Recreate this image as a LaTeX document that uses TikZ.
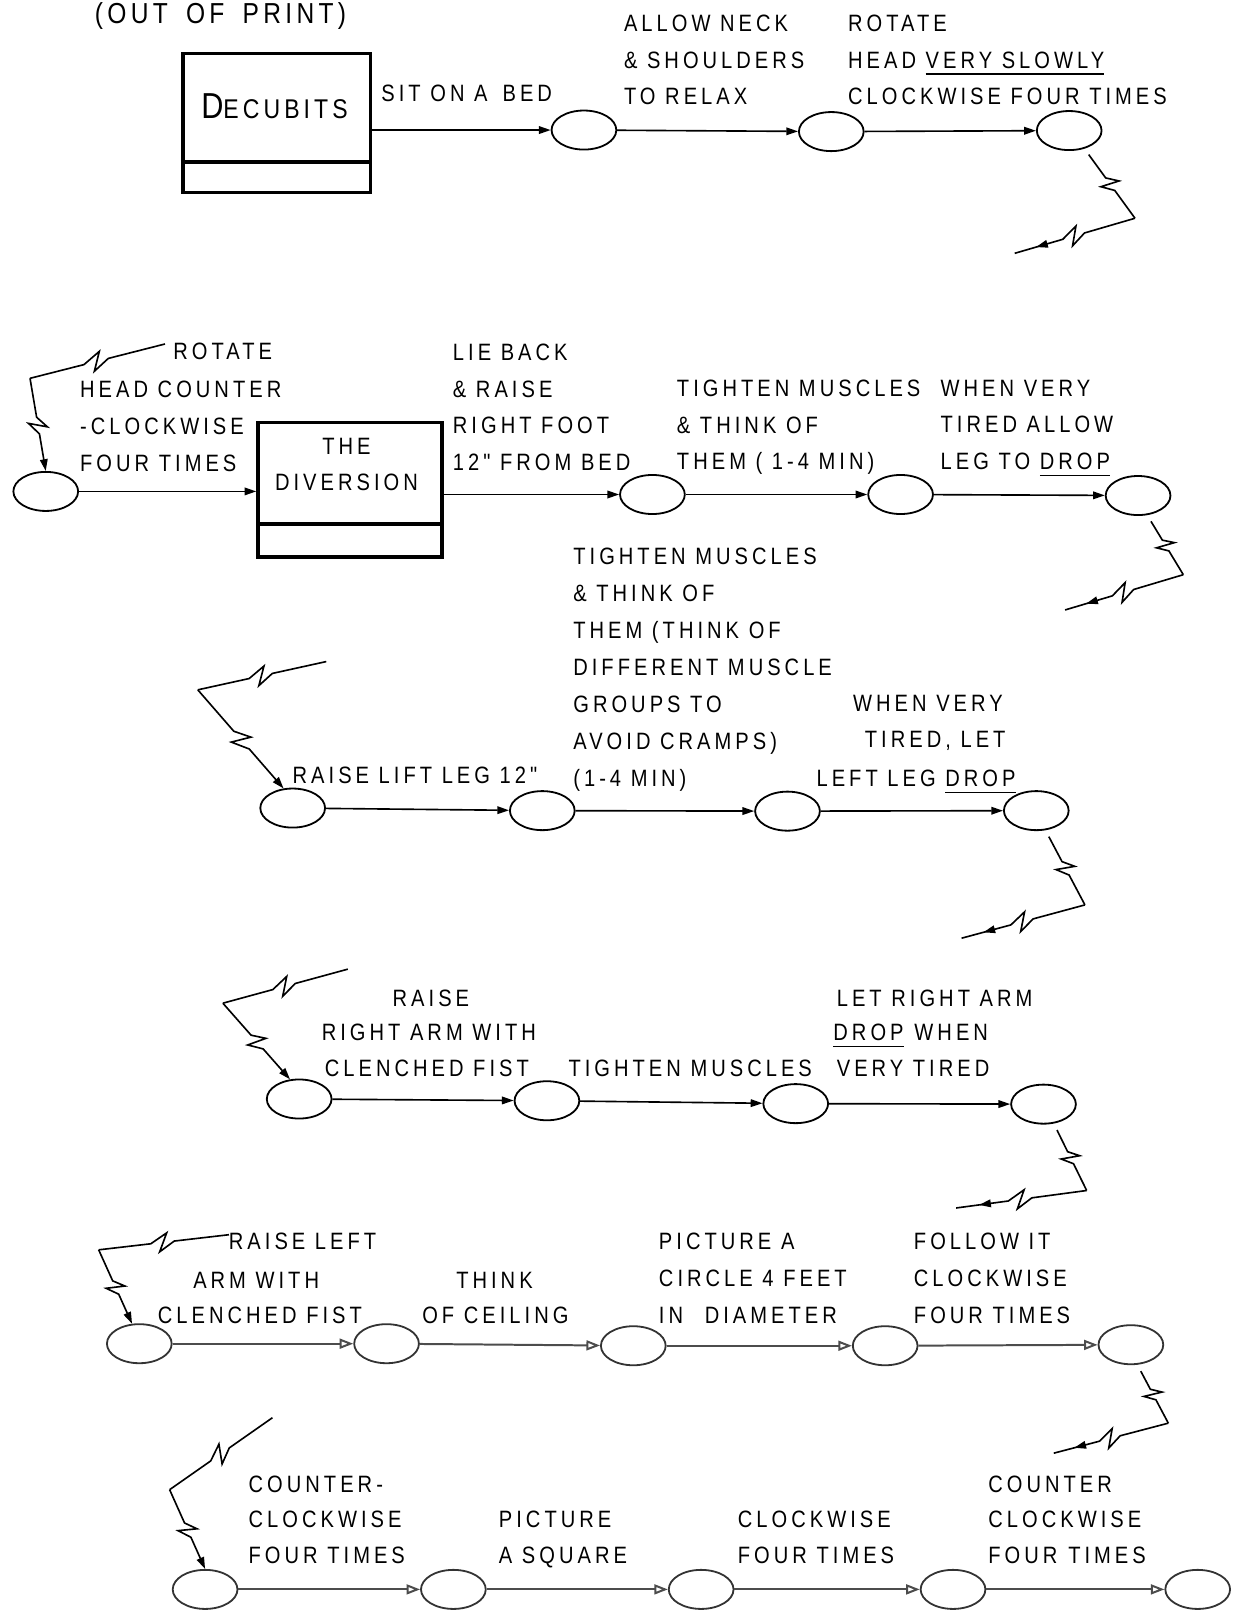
\documentclass[tikz,border=0pt]{standalone}
\usepackage{fontspec}
\setmainfont{Liberation Sans}[FakeStretch=0.85,LetterSpace=15]
\newfontfamily\lf{Liberation Sans}[FakeStretch=0.85,LetterSpace=17]
\usetikzlibrary{shapes.geometric,arrows.meta,calc,decorations.markings}
\newcommand\lblfont{\lf\fontsize{13.1}{20.3}\selectfont}
\newcommand\ulx[1]{\begingroup\setbox0\hbox{#1}\rlap{\rule[-3.6pt]{\wd0}{0.8pt}}\box0\endgroup}
\newcommand\zig[3][]{%
  \draw[conn,#1] (#2) -- ($(#2)!0.42!(#3)$) -- ($(#2)!0.54!(#3)!5pt!90:(#3)$)
     -- ($(#2)!0.47!(#3)!5pt!-90:(#3)$) -- ($(#2)!0.60!(#3)$) -- (#3);}
\begin{document}
\begin{tikzpicture}[x=0.02cm,y=-0.02cm,
 ev/.style={ellipse,draw,line width=1pt,minimum width=1.26cm,minimum height=0.76cm,inner sep=0pt},
 evg/.style={ev,draw=black!80},
 actbox/.style={rectangle,draw,line width=2pt,inner sep=0pt},
 arr/.style={draw,line width=0.9pt,-{Triangle[length=6.5pt,width=4.2pt]}},
 arrg/.style={draw=black!70,line width=1.1pt,-{Triangle[open,length=7.5pt,width=5.5pt]}},
 conn/.style={draw,line width=0.9pt,line join=miter},
 tipmark/.style={postaction={decorate},decoration={markings,mark=at position #1 with {\arrow{Triangle[length=6.5pt,width=4.2pt]}}}},
 lbl/.style={anchor=north west,inner sep=0pt,outer sep=0pt,align=left,font=\lblfont},
]
\useasboundingbox (0,0) rectangle (1204,1568);
\clip (0,0) rectangle (1204,1568);

% ---------- row 1
\node[anchor=base west,inner sep=0pt] (oop) at (92,22.5) {\fontsize{16}{16}\selectfont (OUT\hspace{10pt}OF\hspace{10pt}PRINT)};
\node[actbox,minimum width=3.656cm,minimum height=2.71cm] (dec) at (269.1,119.65) {};
\draw[line width=2pt] ($(dec.south west)+(0,-31.8)$) -- ($(dec.south east)+(0,-31.8)$);
\node[anchor=base,inner sep=0pt] (dect) at (267,115) {{\fontsize{20}{20}\selectfont D}{\fontsize{15}{15}\selectfont ECUBITS}};
\node[ev] (r1a) at (568,126.5) {};
\node[ev] (r1b) at (808.6,128) {};
\node[ev] (r1c) at (1040,127) {};
\draw[arr] (dec.east |- r1a) -- (r1a.west);
\draw[arr] (r1a) -- (r1b);
\draw[arr] (r1b) -- (r1c);
\node[lbl] (t1) at (371,83) {SIT ON A\hspace{3pt} BED};
\node[lbl] (t2) at (607,14.6) {ALLOW NECK\\\& SHOULDERS\\TO RELAX};
\node[lbl] (t3) at (825,14.6) {ROTATE\\HEAD \ulx{VERY SLOWLY}\\CLOCKWISE FOUR TIMES};
\coordinate (k1) at (1104,212.3); \coordinate (f1) at (987,246.4);
\zig[shorten <=4pt]{r1c.-50}{k1}
\zig[tipmark=0.86]{k1}{f1}

% ---------- row 2
\coordinate (g2) at (160.5,334.6); \coordinate (c2) at (29.2,368);
\node[ev] (r2a) at (44.5,478) {};
\node[actbox,minimum width=3.58cm,minimum height=2.62cm] (div) at (340.5,476.5) {};
\draw[line width=2pt] ($(div.south west)+(0,-34)$) -- ($(div.south east)+(0,-34)$);
\node[lbl,anchor=north,align=center] (t6) at (337,426) {THE\\DIVERSION};
\node[ev] (r2b) at (634.6,481) {};
\node[ev] (r2c) at (876,481) {};
\node[ev] (r2d) at (1107,482) {};
\draw[arr] (r2a) -- (div.west |- r2a);
\draw[arr] (div.east |- r2b) -- (r2b);
\draw[arr] (r2b) -- (r2c);
\draw[arr] (r2c) -- (r2d);
\zig{g2}{c2}
\zig[-{Triangle[length=6.5pt,width=4.2pt]}]{c2}{r2a.north}
\node[lbl] (t4) at (168.7,333.6) {ROTATE};
\node[lbl] (t5) at (78,371) {HEAD COUNTER\\-CLOCKWISE\\FOUR TIMES};
\node[lbl] (t7) at (440.6,334.5) {LIE BACK\\\& RAISE\\RIGHT FOOT\\12" FROM BED};
\node[lbl] (t8) at (658.5,369.6) {TIGHTEN MUSCLES\\\& THINK OF\\THEM ( 1-4 MIN)};
\node[lbl] (t9) at (915,369.6) {WHEN VERY\\TIRED ALLOW\\LEG TO \ulx{DROP}};
\coordinate (k2) at (1151,559); \coordinate (f2) at (1036,593.3);
\zig[shorten <=4pt]{r2d.-65}{k2}
\zig[tipmark=0.86]{k2}{f2}

% ---------- row 3
\coordinate (g3) at (317.4,643.5); \coordinate (c3) at (192.4,671);
\node[ev] (r3a) at (284.7,786) {};
\node[ev] (r3b) at (527.5,788.5) {};
\node[ev] (r3c) at (766,789) {};
\node[ev] (r3d) at (1008,788.5) {};
\draw[arr] (r3a) -- (r3b);
\draw[arr] (r3b) -- (r3c);
\draw[arr] (r3c) -- (r3d);
\zig{g3}{c3}
\zig[-{Triangle[length=6.5pt,width=4.2pt]}]{c3}{r3a.115}
\node[lbl,font=\lf\fontsize{13.1}{20.5}\selectfont] (t10) at (557.7,533.3) {TIGHTEN MUSCLES\\\& THINK OF\\THEM (THINK OF\\DIFFERENT MUSCLE\\GROUPS TO\\AVOID CRAMPS)\\(1-4 MIN)};
\node[lbl] (t11) at (284.7,745.6) {RAISE LIFT LEG 12"};
\node[lbl] (t12a) at (829.9,676) {WHEN VERY};
\node[lbl] (t12b) at (841.3,711.6) {TIRED, LET};
\node[lbl] (t12c) at (794.3,749) {LEFT LEG \ulx{DROP}};
\coordinate (k3) at (1055.3,880.2); \coordinate (f3) at (935.3,912.6);
\zig[shorten <=4pt]{r3d.-65}{k3}
\zig[tipmark=0.86]{k3}{f3}

% ---------- row 4
\coordinate (g4) at (338.3,942.7); \coordinate (c4) at (216.8,975.8);
\node[ev] (r4a) at (291,1069) {};
\node[ev] (r4b) at (532,1070.7) {};
\node[ev] (r4c) at (774,1073.5) {};
\node[ev] (r4d) at (1015,1074) {};
\draw[arr] (r4a) -- (r4b);
\draw[arr] (r4b) -- (r4c);
\draw[arr] (r4c) -- (r4d);
\zig{g4}{c4}
\zig[-{Triangle[length=6.5pt,width=4.2pt]}]{c4}{r4a.115}
\node[lbl] (t13a) at (382,963) {RAISE};
\node[lbl] (t13b) at (313,996) {RIGHT ARM WITH};
\node[lbl] (t13c) at (316,1031) {CLENCHED FIST};
\node[lbl] (t14) at (553,1031) {TIGHTEN MUSCLES};
\node[lbl] (t15a) at (814,963) {LET RIGHT ARM};
\node[lbl] (t15b) at (810.7,996) {\ulx{DROP}\hspace{6pt}WHEN};
\node[lbl] (t15c) at (814,1031) {VERY TIRED};
\coordinate (k4) at (1057,1158); \coordinate (f4) at (930,1175);
\zig[shorten <=4pt]{r4d.-62}{k4}
\zig[tipmark=0.86]{k4}{f4}

% ---------- row 5
\coordinate (g5) at (222.7,1201); \coordinate (c5) at (96,1215.7);
\node[evg] (r5a) at (135.5,1307) {};
\node[evg] (r5b) at (376,1307) {};
\node[evg] (r5c) at (616,1309) {};
\node[evg] (r5d) at (861,1309) {};
\node[evg] (r5e) at (1100,1308) {};
\draw[arrg] (r5a) -- (r5b);
\draw[arrg] (r5b) -- (r5c);
\draw[arrg] (r5c) -- (r5d);
\draw[arrg] (r5d) -- (r5e);
\zig{g5}{c5}
\zig[-{Triangle[length=6.5pt,width=4.2pt]}]{c5}{r5a.110}
\node[lbl] (t16a) at (222.7,1199) {RAISE LEFT};
\node[lbl] (t16b) at (188,1237) {ARM WITH};
\node[lbl] (t16c) at (153.6,1271) {CLENCHED FIST};
\node[lbl] (t17a) at (443.8,1237) {THINK};
\node[lbl] (t17b) at (410.8,1271) {OF CEILING};
\node[lbl,font=\lf\fontsize{13.1}{20.5}\selectfont] (t18) at (641,1199) {PICTURE A\\CIRCLE 4 FEET\\IN\hspace{12pt}DIAMETER};
\node[lbl,font=\lf\fontsize{13.1}{20.5}\selectfont] (t19) at (889,1199) {FOLLOW IT\\CLOCKWISE\\FOUR TIMES};
\coordinate (k5) at (1136.4,1384.3); \coordinate (f5) at (1025,1413.5);
\zig[shorten <=4pt]{r5e.-72}{k5}
\zig[tipmark=0.86]{k5}{f5}

% ---------- row 6
\coordinate (g6) at (265,1379); \coordinate (c6) at (165,1449);
\node[evg] (r6a) at (199.5,1546) {};
\node[evg] (r6b) at (441,1546) {};
\node[evg] (r6c) at (682,1546) {};
\node[evg] (r6d) at (927,1546) {};
\node[evg] (r6e) at (1165,1546) {};
\draw[arrg] (r6a) -- (r6b);
\draw[arrg] (r6b) -- (r6c);
\draw[arrg] (r6c) -- (r6d);
\draw[arrg] (r6d) -- (r6e);
\zig{g6}{c6}
\zig[-{Triangle[length=6.5pt,width=4.2pt]}]{c6}{r6a.north}
\node[lbl,font=\lf\fontsize{13.1}{19.6}\selectfont] (t20) at (241.9,1435.5) {COUNTER-\\CLOCKWISE\\FOUR TIMES};
\node[lbl,font=\lf\fontsize{13.1}{19.6}\selectfont] (t21) at (485.3,1470) {PICTURE\\A SQUARE};
\node[lbl,font=\lf\fontsize{13.1}{19.6}\selectfont] (t22) at (717.8,1470) {CLOCKWISE\\FOUR TIMES};
\node[lbl,font=\lf\fontsize{13.1}{19.6}\selectfont] (t23) at (961.4,1435.5) {COUNTER\\CLOCKWISE\\FOUR\hspace{6pt}TIMES};
\end{tikzpicture}
\end{document}
